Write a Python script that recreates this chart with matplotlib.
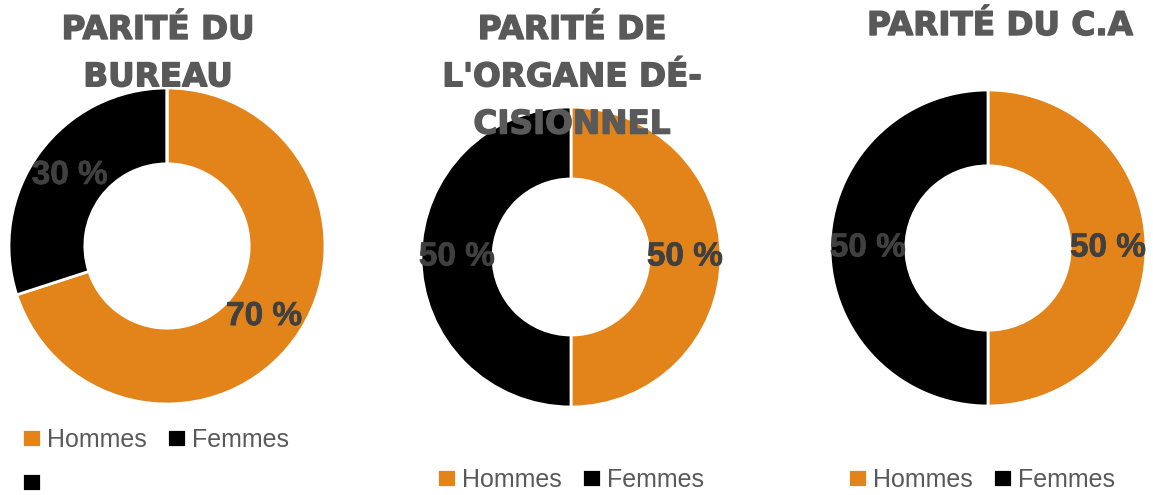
import matplotlib
matplotlib.use("Agg")
import matplotlib.pyplot as plt
import matplotlib.patheffects as pe

# data
labels_bureau = ["Hommes", "Femmes", ""]
values_bureau = [70, 30, 0]
labels_organe = ["Hommes", "Femmes"]
values_organe = [50, 50]
labels_ca = ["Hommes", "Femmes"]
values_ca = [50, 50]

titles = ["PARITÉ DU\nBUREAU", "PARITÉ DE\nL'ORGANE DÉ-\nCISIONNEL", "PARITÉ DU C.A"]

ORANGE = "#E2841A"
BLACK = "#000000"
TITLE_C = "#595959"
LABEL_C = "#404040"

W, H = 1153, 495
fig = plt.figure(figsize=(W / 100, H / 100), dpi=100)


def donut(cx, cy, r, values, colors):
    ax = fig.add_axes([(cx - r) / W, 1 - (cy + r) / H, 2 * r / W, 2 * r / H])
    wedges, _, autotexts = ax.pie(
        values, colors=colors, startangle=90, counterclock=False,
        wedgeprops=dict(width=0.48, edgecolor="white", linewidth=2),
        autopct=lambda p: f"{p:.0f} %" if p > 0 else "",
        pctdistance=0.76,
    )
    for t in autotexts:
        t.set_fontfamily("Liberation Sans")
        t.set_fontweight("bold")
        t.set_fontsize(24)
        t.set_color(LABEL_C)
        t.set_path_effects([pe.withStroke(linewidth=0.5, foreground=LABEL_C)])
    ax.set_xlim(-1, 1)
    ax.set_ylim(-1, 1)
    ax.set_aspect("equal")
    ax.axis("off")
    return ax, wedges


def legend(ax, handles, labels, x, y, ncol):
    ax.legend(handles, labels, loc="upper left", bbox_to_anchor=(x / W, 1 - y / H),
              bbox_transform=fig.transFigure, frameon=False, ncol=ncol,
              prop={"family": "Liberation Sans", "size": 18},
              labelcolor=TITLE_C, handlelength=0.75, handleheight=0.75,
              handletextpad=0.25, columnspacing=0.8, labelspacing=0.8,
              borderpad=0, borderaxespad=0)


ax1, w1 = donut(167, 246, 158, values_bureau, [ORANGE, BLACK, BLACK])
ax2, w2 = donut(571, 257, 150, values_organe, [ORANGE, BLACK])
ax3, w3 = donut(988, 248, 158, values_ca, [ORANGE, BLACK])

# legend fills column by column, so reorder to get the entries row by row
legend(ax1, [w1[0], w1[2], w1[1]], [labels_bureau[0], labels_bureau[2], labels_bureau[1]], 22, 428, 2)
legend(ax2, w2, labels_organe, 437, 468, 2)
legend(ax3, w3, labels_ca, 848, 468, 2)

for txt, x, y in zip(titles, [158, 572, 1000], [13, 13, 9]):
    fig.text(x / W, 1 - y / H, txt, ha="center", va="top", fontsize=23.5,
             fontweight="bold", family="DejaVu Sans", color=TITLE_C,
             linespacing=1.55, zorder=5,
             path_effects=[pe.withStroke(linewidth=1.0, foreground=TITLE_C)])

fig.savefig("out.png", dpi=100)
